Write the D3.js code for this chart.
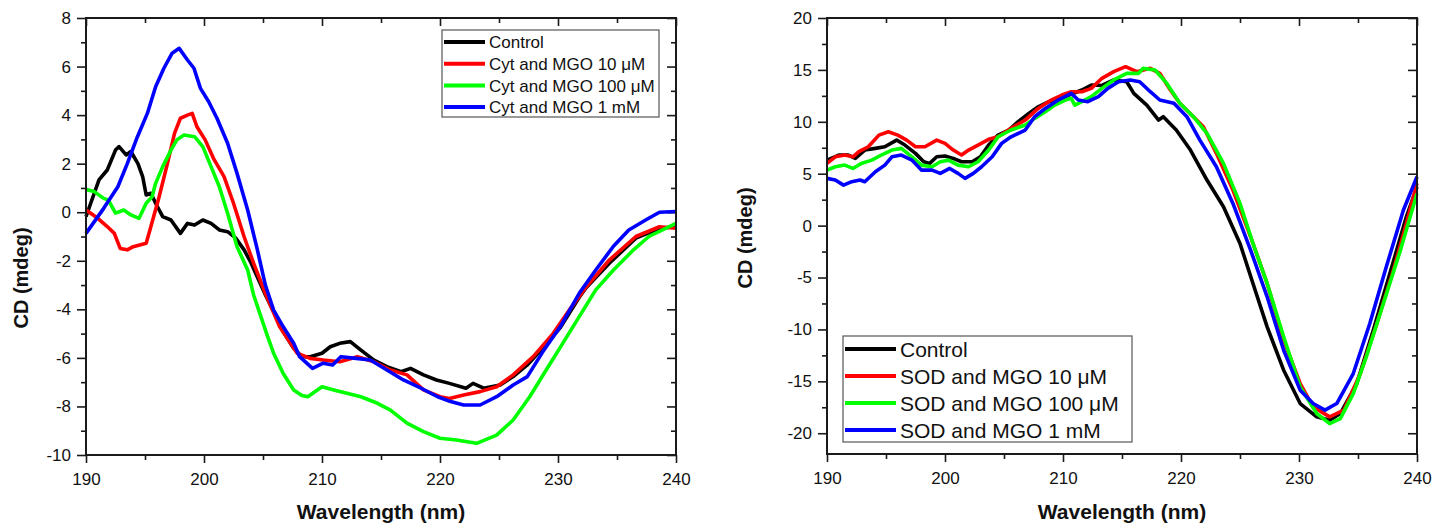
<html>
<head>
<meta charset="utf-8">
<script src="https://d3js.org/d3.v7.min.js"></script>
<style>
body { margin: 0; background: #fff; }
svg text { font-family: "Liberation Sans", Arial, sans-serif; fill: #111; }
.axis path { display: none; }
.axis line { stroke: #1a1a1a; stroke-width: 1.6px; }
.axis text { font-size: 17px; }
</style>
</head>
<body>
<svg id="chart" width="1444" height="523"></svg>
<script>
// wavelength (nm), CD (mdeg)

// --- left panel: cytochrome c ---
var cytControl = [[190,-0.18],[190.4,0.37],[191.1,1.33],[191.8,1.74],[192.5,2.56],[192.8,2.7],[193.4,2.36],[193.8,2.5],[194.4,2.0],[194.8,1.47],[195.1,0.71],[195.5,0.78],[195.9,0.37],[196.5,-0.18],[197.2,-0.32],[198.0,-0.87],[198.6,-0.46],[199.2,-0.53],[199.9,-0.32],[200.6,-0.46],[201.3,-0.73],[202.0,-0.8],[202.7,-1.07],[203.4,-1.55],[204.0,-2.1],[204.5,-2.65],[205.2,-3.4],[205.9,-4.1],[206.7,-4.9],[207.6,-5.6],[208.3,-5.95],[209,-5.95],[210,-5.81],[210.7,-5.54],[211.5,-5.4],[212.4,-5.33],[213.3,-5.68],[214.4,-6.09],[215.5,-6.36],[216.7,-6.57],[217.5,-6.43],[218.6,-6.7],[219.7,-6.91],[220.8,-7.05],[222.2,-7.25],[222.8,-7.05],[223.7,-7.25],[225.1,-7.12],[226.2,-6.77],[227.4,-6.29],[228.8,-5.54],[230.2,-4.75],[231.8,-3.5],[232.4,-3.1],[234.35,-2.1],[236.6,-1.07],[238.6,-0.66],[240,-0.6]];
var cyt10uM = [[190,0.09],[191,-0.25],[191.8,-0.59],[192.4,-0.87],[192.9,-1.49],[193.5,-1.55],[194,-1.42],[195.1,-1.28],[195.5,-0.59],[196.2,0.64],[196.9,2.0],[197.5,3.25],[198,3.87],[198.6,4.0],[199,4.07],[199.4,3.52],[200.1,2.98],[200.8,2.22],[201.7,1.47],[202.5,0.37],[203.4,-1.01],[204.2,-2.1],[205.2,-3.34],[206.4,-4.71],[207.9,-5.81],[209,-6.02],[210.1,-6.09],[211.5,-6.16],[213,-5.95],[214.4,-6.16],[215.8,-6.5],[217.2,-6.7],[218.6,-7.32],[220,-7.6],[220.8,-7.67],[222,-7.53],[223.4,-7.39],[224.8,-7.19],[226.2,-6.7],[227.9,-5.95],[229.6,-4.99],[231,-4.0],[232.4,-3.07],[234.35,-1.97],[236.6,-1.0],[238.6,-0.6],[240,-0.66]];
var cyt100uM = [[190,0.94],[190.7,0.85],[191.5,0.57],[191.9,0.5],[192.5,-0.04],[193.2,0.09],[193.8,-0.11],[194.5,-0.25],[195.1,0.37],[195.6,0.64],[195.9,1.19],[196.5,1.88],[197.2,2.56],[197.7,2.98],[198.3,3.18],[199.2,3.11],[199.9,2.7],[200.6,1.88],[201.3,1.05],[202,-0.04],[202.8,-1.42],[203.7,-2.38],[204.2,-3.4],[205.3,-4.99],[205.9,-5.81],[206.7,-6.63],[207.6,-7.32],[208.3,-7.55],[208.8,-7.6],[210,-7.19],[211,-7.32],[212.1,-7.46],[213.3,-7.6],[214.7,-7.87],[215.8,-8.15],[217.2,-8.69],[218.6,-9.04],[220,-9.31],[221.4,-9.38],[223.1,-9.52],[224.8,-9.18],[226.2,-8.56],[227.6,-7.6],[229,-6.5],[230.4,-5.4],[231.8,-4.3],[233.2,-3.2],[234.7,-2.38],[236.4,-1.55],[237.7,-1.0],[240,-0.46]];
var cyt1mM = [[190,-0.87],[191.5,0.16],[192.7,1.05],[193.5,2.0],[194.35,3.1],[195.2,4.07],[195.9,5.17],[196.6,5.93],[197.3,6.55],[197.9,6.75],[198.6,6.27],[199.15,5.93],[199.7,5.1],[200.4,4.55],[201.1,3.87],[202.0,2.84],[202.8,1.6],[203.7,0.09],[204.5,-1.5],[205.2,-3.0],[205.9,-4.03],[206.7,-4.71],[207.6,-5.4],[208.1,-5.95],[209.2,-6.43],[210.1,-6.22],[210.9,-6.29],[211.6,-5.95],[212.9,-6.02],[214.1,-6.09],[215.5,-6.5],[216.9,-6.91],[218.4,-7.25],[219.8,-7.6],[220.9,-7.8],[222,-7.94],[223.4,-7.94],[224.8,-7.6],[226.2,-7.12],[227.4,-6.77],[228.8,-5.68],[230.2,-4.71],[231.8,-3.34],[233.2,-2.38],[234.7,-1.4],[236,-0.73],[237.5,-0.3],[238.6,0.0],[240,0.03]];

// --- right panel: SOD ---
var sodControl = [[190,6.31],[191,6.8],[191.8,6.8],[192.4,6.47],[193.2,7.28],[194.1,7.44],[194.9,7.6],[195.9,8.24],[196.6,7.76],[197.5,6.96],[198.2,6.15],[198.7,5.99],[199.3,6.63],[200,6.7],[200.7,6.47],[201.4,6.15],[202.3,6.15],[203,6.63],[203.7,7.76],[204.5,8.72],[205.4,9.21],[206.2,10.01],[207.1,10.81],[207.9,11.45],[208.8,11.94],[209.6,12.1],[210.5,12.58],[211.6,13.06],[212.4,13.54],[213.3,13.5],[214.3,14.03],[215.4,13.86],[216,12.74],[217.1,11.61],[218.1,10.17],[218.5,10.49],[219.6,9.21],[220.8,7.28],[222.2,4.39],[223.6,1.82],[225,-1.72],[226.1,-5.57],[227.3,-9.75],[228.7,-13.93],[230.1,-17.14],[231.5,-18.42],[232.6,-18.75],[233.5,-18.1],[234.9,-15.21],[236.3,-10.07],[237.7,-4.61],[239.1,0.85],[240,3.74]];
var sod10uM = [[190,5.99],[190.7,6.63],[191.5,6.8],[192.2,6.63],[192.7,7.12],[193.5,7.6],[194.4,8.72],[195.2,9.04],[196,8.72],[196.75,8.24],[197.5,7.6],[198.3,7.6],[199.3,8.24],[200,7.92],[200.7,7.28],[201.4,6.8],[202,7.28],[202.8,7.76],[203.7,8.31],[204.5,8.56],[205.6,9.37],[206.8,10.17],[207.9,11.29],[209,12.1],[209.9,12.58],[210.7,12.9],[211.6,12.9],[212.4,13.22],[213.3,14.19],[214.3,14.83],[215.3,15.31],[216.25,14.83],[217.4,15.15],[218.2,14.67],[219.1,13.06],[219.9,11.78],[221.05,10.49],[221.9,9.53],[223,6.96],[224.4,3.42],[225.9,-1.08],[227.3,-5.57],[228.7,-11.04],[230.1,-15.21],[231.2,-17.46],[232.6,-18.42],[233.8,-17.78],[235.2,-14.25],[236.6,-9.43],[238,-4.29],[239.1,0.21],[240,4.07]];
var sod100uM = [[190,5.35],[190.7,5.67],[191.5,5.83],[192.2,5.51],[192.9,5.99],[193.8,6.31],[194.6,6.8],[195.5,7.28],[196.3,7.44],[197.2,6.63],[198,5.83],[198.9,5.67],[199.6,6.15],[200.3,6.31],[201.1,5.83],[202,5.67],[202.8,6.15],[203.7,7.28],[204.5,8.56],[205.6,9.21],[206.8,9.69],[207.6,10.33],[208.5,10.97],[209.3,11.61],[210.2,12.1],[210.7,12.26],[211,11.61],[211.6,11.94],[212.4,12.42],[213.3,13.22],[214.3,14.03],[215.4,14.67],[216.4,14.67],[216.8,15.15],[217.8,14.99],[218.8,13.7],[219.9,11.78],[221.05,10.49],[222.2,8.88],[223.6,6.0],[225,2.14],[226.1,-1.72],[227.3,-5.57],[228.7,-10.71],[230.1,-15.53],[231.5,-18.1],[232.6,-19.07],[233.5,-18.59],[234.6,-16.18],[235.7,-12.64],[237.15,-7.5],[238.6,-2.36],[240,3.1]];
var sod1mM = [[190,4.55],[190.7,4.39],[191.4,3.9],[192.1,4.23],[192.8,4.39],[193.2,4.23],[194.1,5.19],[194.9,5.83],[195.5,6.63],[196.3,6.8],[197.2,6.31],[198,5.35],[198.9,5.35],[199.6,5.03],[200.4,5.51],[201.1,5.03],[201.7,4.55],[202.4,5.03],[203.1,5.67],[204,6.63],[204.8,7.92],[205.6,8.56],[206.8,9.21],[207.6,10.49],[208.5,11.29],[209.6,12.1],[210.7,12.74],[211.3,12.1],[212.1,11.94],[213,12.42],[213.8,13.22],[214.7,13.86],[215.7,14.03],[216.5,13.86],[217.4,12.9],[218.2,12.1],[219.4,11.78],[220.5,10.49],[221.6,8.24],[223,5.67],[224.4,2.14],[225.9,-2.36],[227.3,-6.86],[228.7,-12.0],[230.1,-15.85],[231.2,-17.14],[232.2,-17.78],[233.2,-17.14],[234.6,-14.25],[236,-9.43],[237.4,-3.97],[238.85,1.5],[240,4.71]];

// legend text + colours
var cytLabels = ["Control", "Cyt and MGO 10 \u03bcM", "Cyt and MGO 100 \u03bcM", "Cyt and MGO 1 mM"];
var sodLabels = ["Control", "SOD and MGO 10 \u03bcM", "SOD and MGO 100 \u03bcM", "SOD and MGO 1 mM"];
var seriesColors = ["#000000", "#ff0000", "#00ff00", "#0000ff"];

// ticks
var xTicks = [190, 200, 210, 220, 230, 240];
var xMinor = [195, 205, 215, 225, 235];
var cytYTicks = [-10, -8, -6, -4, -2, 0, 2, 4, 6, 8];
var cytYMinor = [-9, -7, -5, -3, -1, 1, 3, 5, 7];
var sodYTicks = [-20, -15, -10, -5, 0, 5, 10, 15, 20];
var sodYMinor = [-17.5, -12.5, -7.5, -2.5, 2.5, 7.5, 12.5, 17.5];

var svg = d3.select("#chart");

function drawPanel(p) {
	var x = d3.scaleLinear().domain([190, 240]).range([p.left, p.right]);
	var y = d3.scaleLinear().domain(p.yDomain).range([p.bottom, p.top]);
	var g = svg.append("g");
	var fmt = function(d) { return String(d); };

	// bottom (out) + top (in)
	g.append("g").attr("class", "axis").attr("transform", "translate(0," + p.bottom + ")")
		.call(d3.axisBottom(x).tickValues(xTicks).tickSize(8).tickPadding(10).tickFormat(fmt));
	g.append("g").attr("class", "axis").attr("transform", "translate(0," + p.bottom + ")")
		.call(d3.axisBottom(x).tickValues(xMinor).tickSize(5).tickFormat(""));
	g.append("g").attr("class", "axis").attr("transform", "translate(0," + p.top + ")")
		.call(d3.axisTop(x).tickValues(xTicks).tickSize(-8).tickFormat(""));
	g.append("g").attr("class", "axis").attr("transform", "translate(0," + p.top + ")")
		.call(d3.axisTop(x).tickValues(xMinor).tickSize(-5).tickFormat(""));

	// left (out) + right (in)
	g.append("g").attr("class", "axis").attr("transform", "translate(" + p.left + ",0)")
		.call(d3.axisLeft(y).tickValues(p.yTicks).tickSize(9).tickPadding(6).tickFormat(fmt));
	g.append("g").attr("class", "axis").attr("transform", "translate(" + p.left + ",0)")
		.call(d3.axisLeft(y).tickValues(p.yMinor).tickSize(5).tickFormat(""));
	g.append("g").attr("class", "axis").attr("transform", "translate(" + p.right + ",0)")
		.call(d3.axisRight(y).tickValues(p.yTicks).tickSize(-9).tickFormat(""));
	g.append("g").attr("class", "axis").attr("transform", "translate(" + p.right + ",0)")
		.call(d3.axisRight(y).tickValues(p.yMinor).tickSize(-5).tickFormat(""));

	var line = d3.line()
		.x(function(d) { return x(d[0]); })
		.y(function(d) { return y(d[1]); });

	g.selectAll("path.curve")
		.data(p.series)
		.enter().append("path")
		.attr("class", "curve")
		.attr("d", line)
		.style("fill", "none")
		.style("stroke", function(d, i) { return seriesColors[i]; })
		.style("stroke-width", "3.6px")
		.style("stroke-linejoin", "round");

	// frame
	g.append("rect")
		.attr("x", p.left).attr("y", p.top)
		.attr("width", p.right - p.left).attr("height", p.bottom - p.top)
		.style("fill", "none").style("stroke", "#1a1a1a").style("stroke-width", "2px");

	// axis titles
	g.append("text")
		.attr("x", (p.left + p.right) / 2).attr("y", 519)
		.attr("text-anchor", "middle")
		.style("font-size", "21px").style("font-weight", "bold")
		.text("Wavelength (nm)");
	g.append("text")
		.attr("transform", "translate(" + p.yLabelX + "," + p.yLabelY + ") rotate(-90)")
		.attr("text-anchor", "middle")
		.attr("dy", "0.35em")
		.style("font-size", "20px").style("font-weight", "bold")
		.text("CD (mdeg)");

	// legend
	var L = p.legend;
	var lg = g.append("g");
	lg.append("rect")
		.attr("x", L.x).attr("y", L.y).attr("width", L.w).attr("height", L.h)
		.style("fill", "#fff").style("stroke", "#555").style("stroke-width", "1.2px");
	var rows = lg.selectAll("g.row").data(p.labels).enter().append("g")
		.attr("class", "row")
		.attr("transform", function(d, i) { return "translate(0," + (L.y + L.first + i * L.step) + ")"; });
	rows.append("line")
		.attr("x1", L.x + 2).attr("x2", L.x + L.lineLen)
		.style("stroke", function(d, i) { return seriesColors[i]; })
		.style("stroke-width", "4px");
	rows.append("text")
		.attr("x", L.x + L.lineLen + 4)
		.attr("dy", "0.36em")
		.style("font-size", L.font + "px")
		.text(function(d) { return d; });
}

drawPanel({
	left: 86, right: 676, top: 18, bottom: 455,
	yDomain: [-10, 8], yTicks: cytYTicks, yMinor: cytYMinor,
	series: [cytControl, cyt10uM, cyt100uM, cyt1mM],
	labels: cytLabels,
	yLabelX: 21, yLabelY: 278,
	legend: { x: 442, y: 30, w: 217, h: 87, first: 12, step: 21.7, lineLen: 43, font: 17 }
});

drawPanel({
	left: 827, right: 1417, top: 18, bottom: 454,
	yDomain: [-22, 20], yTicks: sodYTicks, yMinor: sodYMinor,
	series: [sodControl, sod10uM, sod100uM, sod1mM],
	labels: sodLabels,
	yLabelX: 745, yLabelY: 238,
	legend: { x: 843, y: 336, w: 289, h: 106, first: 13, step: 27, lineLen: 53, font: 21 }
});
</script>
</body>
</html>
